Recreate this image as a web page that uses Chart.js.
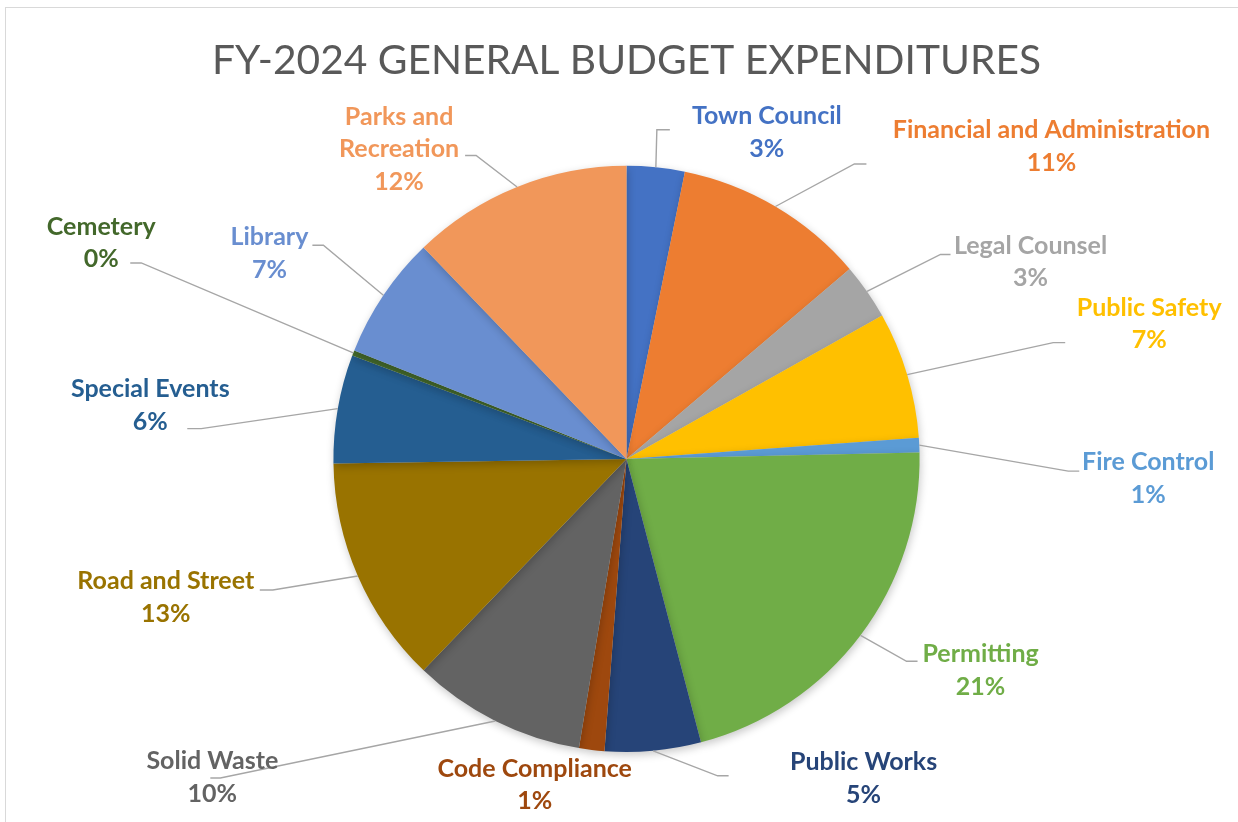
<!DOCTYPE html>
<html>
<head>
<meta charset="utf-8">
<script src="https://cdn.jsdelivr.net/npm/chart.js@4.4.1/dist/chart.umd.min.js"></script>
<style>
  html, body { margin: 0; padding: 0; background: #fff; overflow: hidden; }
  #frame { position: absolute; left: 5px; top: 7px; width: 1300px; height: 900px; border: 1px solid #d9d9d9; }
  #wrap { position: absolute; left: 0; top: 0; width: 1238px; height: 822px; }
</style>
</head>
<body>
<div id="frame"></div>
<div id="wrap"><canvas id="budgetChart"></canvas></div>
<script>
// Daten (Anteile in %)
const categories = [
    "Town Council", "Financial and Administration", "Legal Counsel", "Public Safety",
    "Fire Control", "Permitting", "Public Works", "Code Compliance", "Solid Waste",
    "Road and Street", "Special Events", "Cemetery", "Library", "Parks and Recreation"
];
const shares = [3.2, 10.6, 3.1, 7.0, 0.8, 21.3, 5.3, 1.4, 9.6, 12.6, 6.0, 0.3, 6.8, 12.2];
const sliceColors = [
    "#4472C4", "#ED7D31", "#A5A5A5", "#FFC000", "#5B9BD5", "#70AD47", "#264478",
    "#9E480E", "#636363", "#997300", "#255E91", "#43682B", "#698ED0", "#F1975A"
];
const chartTitle = "FY-2024 GENERAL BUDGET EXPENDITURES";

// Label-Layout: Versatz vom Randpunkt der Scheibe, Knick der Führungslinie relativ zum Label
const labelLayout = [
    { d: [111, -35],    elbow: [-110, -2.5], stub: 13 },
    { d: [276, -60],    elbow: [-197, 17.5], stub: 12 },
    { d: [163.5, -29.5], elbow: [-90, -7.5], stub: 10 },
    { d: [242, -50.5],  elbow: [-96, 18.5],  stub: 12 },
    { d: [229, 33.5],   elbow: [-80, -7.5],  stub: 11 },
    { d: [120, 35],     elbow: [-74, -9],    stub: 11 },
    { d: [210.5, 27.5], elbow: [-146, -2.5], stub: 11 },
    { d: [-57, 35],     elbow: null },
    { d: [-283, 56.5],  elbow: [8, 0.5],     stub: -10 },
    { d: [-192, 21.5],  elbow: [107, -7.5],  stub: -13 },
    { d: [-187.5, -3],  elbow: [51, 23],     stub: -14 },
    { d: [-252, -110],  elbow: [40, 20],     stub: -11 },
    { d: [-114, -42],   elbow: [54, -8],     stub: -11 },
    { d: [-118, -38],   elbow: [77, 6.5],    stub: -11, wrap: ["Parks and", "Recreation"] }
];

const outLabels = {
    id: "outLabels",
    beforeDatasetsDraw(chart) {
        const ctx = chart.ctx;
        ctx.save();
        ctx.shadowColor = "rgba(0,0,0,0.22)";
        ctx.shadowBlur = 9;
        ctx.shadowOffsetX = 1;
        ctx.shadowOffsetY = 3;
    },
    afterDatasetsDraw(chart) {
        const ctx = chart.ctx;
        ctx.restore();
        const meta = chart.getDatasetMeta(0);
        const total = shares.reduce((a, b) => a + b, 0);
        const lineH = 32.5;

        meta.data.forEach((arc, i) => {
            const p = arc.getProps(["x", "y", "startAngle", "endAngle", "outerRadius"], true);
            const mid = (p.startAngle + p.endAngle) / 2;
            const ax = p.x + Math.cos(mid) * p.outerRadius;
            const ay = p.y + Math.sin(mid) * p.outerRadius;
            const lay = labelLayout[i];
            const lx = ax + lay.d[0];
            const ly = ay + lay.d[1];

            // Führungslinie
            if (lay.elbow) {
                const ex = lx + lay.elbow[0];
                const ey = ly + lay.elbow[1];
                ctx.beginPath();
                ctx.strokeStyle = "#a6a6a6";
                ctx.lineWidth = 1.4;
                ctx.moveTo(ax, ay);
                ctx.lineTo(ex, ey);
                ctx.lineTo(ex + lay.stub, ey);
                ctx.stroke();
            }

            const lines = (lay.wrap ? lay.wrap.slice() : [categories[i]]);
            lines.push(Math.round(shares[i] / total * 100) + "%");
            ctx.fillStyle = sliceColors[i];
            ctx.font = "bold 25px Lato, 'Open Sans', sans-serif";
            ctx.textAlign = "center";
            ctx.textBaseline = "middle";
            const top = ly - (lines.length - 1) * lineH / 2;
            lines.forEach((t, k) => ctx.fillText(t, lx, top + k * lineH));
        });
    }
};

new Chart(document.querySelector("#budgetChart"), {
    type: "pie",
    data: {
        labels: categories,
        datasets: [{
            data: shares,
            backgroundColor: sliceColors,
            borderWidth: 0
        }]
    },
    options: {
        responsive: true,
        maintainAspectRatio: false,
        animation: false,
        layout: { padding: { left: 15, right: 0, top: 0, bottom: 70 } },
        plugins: {
            legend: { display: false },
            tooltip: { enabled: false },
            title: {
                display: true,
                text: chartTitle,
                color: "#595959",
                font: { family: "Lato, 'Open Sans', sans-serif", size: 40.7, weight: "normal", lineHeight: 1.2 },
                padding: { top: 36, bottom: 81 }
            }
        }
    },
    plugins: [outLabels]
});
</script>
</body>
</html>
